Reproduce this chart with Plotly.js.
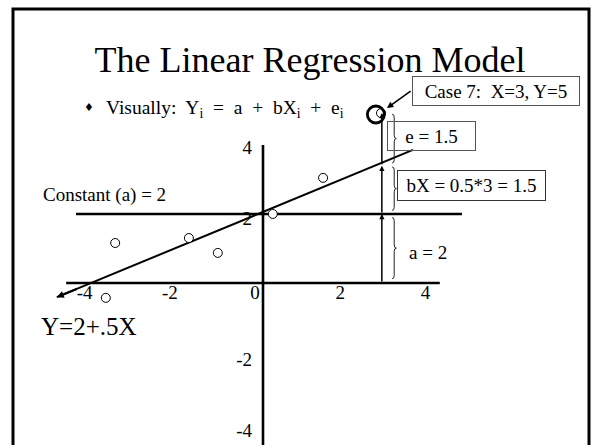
<!DOCTYPE html>
<html>
<head>
<meta charset="utf-8">
<script src="https://cdn.plot.ly/plotly-3.0.1.min.js"></script>
<style>html,body{margin:0;padding:0;background:#fff;}#chart{width:602px;height:445px;}</style>
</head>
<body>
<div id="chart"></div>
<script>
// ---- data (axis units) ----
const pointsX = [-3.69, -3.47, -1.74, -1.06, 0.23, 1.41, 2.77];
const pointsY = [-0.42, 1.13, 1.27, 0.85, 1.95, 2.97, 4.8];
const regLineX = [-4.84, 3.52];
const regLineY = [-0.4, 3.76];
const xAxisExtent = [-4.62, 4.15];
const constLineExtent = [-4.39, 4.67];
const yAxisTop = 3.9;
const constantA = 1.95;
const caseX = 2.79;
const fittedY = 3.31;
const caseY = 4.8;
const bigCircleX = [2.65];
const bigCircleY = [4.76];
const caseArrowTail = [3.5, 5.45];
const caseArrowHead = [2.91, 4.94];
const xTickVals = [-4, -2, 0, 2, 4];
const xTickText = ['-4', '-2', '0', '2', '4'];
const yTickVals = [-4, -2, 2, 4];
const yTickText = ['-4', '-2', '2', '4'];

// ---- layout geometry ----
const W = 602, H = 445;
const X0PX = 263, XPU = 42.6, Y0PX = 283, YPU = 35.4;
const xRange = [(0 - X0PX) / XPU, (W - X0PX) / XPU];
const yRange = [(Y0PX - H) / YPU, Y0PX / YPU];
const px = v => v / W;
const py = v => 1 - v / H;
const FONT = 'Liberation Serif, Times New Roman, serif';
const NB = '\u00A0';

function brace(xl, yTop, yBot) {
  const w = 0.1, r = 0.09;
  const xm = xl + w / 2, xc = xl + w, ym = (yTop + yBot) / 2;
  return `M ${xl},${yTop} Q ${xm},${yTop} ${xm},${yTop - r} L ${xm},${ym + r} Q ${xm},${ym} ${xc},${ym} ` +
         `Q ${xm},${ym} ${xm},${ym - r} L ${xm},${yBot + r} Q ${xm},${yBot} ${xl},${yBot}`;
}

const traces = [
  { x: regLineX, y: regLineY, mode: 'lines', line: { color: '#000', width: 2 }, hoverinfo: 'skip' },
  { x: pointsX, y: pointsY, mode: 'markers',
    marker: { symbol: 'circle', size: 9, color: '#fff', line: { color: '#000', width: 1 } }, hoverinfo: 'skip' },
  { x: bigCircleX, y: bigCircleY, mode: 'markers',
    marker: { symbol: 'circle-open', size: 17, color: '#000', line: { color: '#000', width: 2.8 } }, hoverinfo: 'skip' }
];

const shapes = [
  { type: 'rect', xref: 'paper', yref: 'paper', x0: px(13), x1: px(589), y0: -0.05, y1: py(9),
    line: { color: '#000', width: 3 } },
  { type: 'line', xref: 'x', yref: 'y', x0: xAxisExtent[0], x1: xAxisExtent[1], y0: 0, y1: 0,
    line: { color: '#000', width: 2.6 }, layer: 'below' },
  { type: 'line', xref: 'x', yref: 'y', x0: 0, x1: 0, y0: yAxisTop, y1: yRange[0] - 1,
    line: { color: '#000', width: 2.6 }, layer: 'below' },
  { type: 'line', xref: 'x', yref: 'y', x0: constLineExtent[0], x1: constLineExtent[1], y0: constantA, y1: constantA,
    line: { color: '#000', width: 2.6 }, layer: 'below' },
  { type: 'path', xref: 'x', yref: 'y', path: brace(caseX + 0.24, caseY - 0.03, fittedY + 0.08), line: { color: '#222', width: 1 } },
  { type: 'path', xref: 'x', yref: 'y', path: brace(caseX + 0.24, fittedY - 0.03, constantA + 0.1), line: { color: '#222', width: 1 } },
  { type: 'path', xref: 'x', yref: 'y', path: brace(caseX + 0.24, constantA - 0.1, 0.12), line: { color: '#222', width: 1 } }
];

function vArrow(y0, y1) {
  return { x: caseX, y: y1, ax: caseX, ay: y0, xref: 'x', yref: 'y', axref: 'x', ayref: 'y',
    text: '', showarrow: true, arrowhead: 2, arrowsize: 0.7, arrowwidth: 1.5, arrowcolor: '#000', standoff: 0 };
}
const slope = (regLineY[1] - regLineY[0]) / (regLineX[1] - regLineX[0]);

const annotations = [
  vArrow(0, constantA), vArrow(constantA, fittedY), vArrow(fittedY, caseY),
  { x: regLineX[0], y: regLineY[0], ax: regLineX[0] + 0.5, ay: regLineY[0] + 0.5 * slope,
    xref: 'x', yref: 'y', axref: 'x', ayref: 'y', text: '', showarrow: true,
    arrowhead: 2, arrowsize: 0.7, arrowwidth: 2, arrowcolor: '#000', standoff: 0 },
  { x: caseArrowHead[0], y: caseArrowHead[1], ax: caseArrowTail[0], ay: caseArrowTail[1],
    xref: 'x', yref: 'y', axref: 'x', ayref: 'y', text: '', showarrow: true,
    arrowhead: 2, arrowsize: 0.8, arrowwidth: 1.6, arrowcolor: '#000', standoff: 0 },
  // bullet line
  { xref: 'paper', yref: 'paper', x: px(89), y: py(108), xanchor: 'center', yanchor: 'middle', showarrow: false,
    text: '\u2666', font: { family: 'DejaVu Sans', size: 11, color: '#000' } },
  { xref: 'paper', yref: 'paper', x: px(104), y: py(109), xanchor: 'left', yanchor: 'middle', showarrow: false,
    text: 'Visually:' + NB + ' Y<sub>i</sub>' + NB + ' =' + NB + ' a' + NB + ' +' + NB + ' bX<sub>i</sub>' + NB + ' +' + NB + ' e<sub>i</sub>',
    font: { family: FONT, size: 19.5, color: '#000' } },
  { xref: 'paper', yref: 'paper', x: px(41), y: py(195), xanchor: 'left', yanchor: 'middle', showarrow: false,
    text: 'Constant (a) = 2', font: { family: FONT, size: 19, color: '#000' } },
  { xref: 'paper', yref: 'paper', x: px(39), y: py(326), xanchor: 'left', yanchor: 'middle', showarrow: false,
    text: 'Y=2+.5X', font: { family: FONT, size: 25, color: '#000' } },
  { xref: 'paper', yref: 'paper', x: px(495.5), y: py(90.5), xanchor: 'center', yanchor: 'middle', showarrow: false,
    text: 'Case 7:' + NB + ' X=3, Y=5', font: { family: FONT, size: 19, color: '#000' },
    width: 164, height: 26, bordercolor: '#555', borderwidth: 1, borderpad: 1, bgcolor: '#fff' },
  { xref: 'paper', yref: 'paper', x: px(431), y: py(135.5), xanchor: 'center', yanchor: 'middle', showarrow: false,
    text: 'e = 1.5', font: { family: FONT, size: 19, color: '#000' },
    width: 85, height: 26, bordercolor: '#555', borderwidth: 1, borderpad: 1 },
  { xref: 'paper', yref: 'paper', x: px(471), y: py(185), xanchor: 'center', yanchor: 'middle', showarrow: false,
    text: 'bX = 0.5*3 = 1.5', font: { family: FONT, size: 19, color: '#000' },
    width: 145, height: 27, bordercolor: '#333', borderwidth: 1, borderpad: 1 },
  { xref: 'paper', yref: 'paper', x: px(407), y: py(252), xanchor: 'left', yanchor: 'middle', showarrow: false,
    text: 'a = 2', font: { family: FONT, size: 19, color: '#000' } }
];

const layout = {
  width: W, height: H,
  margin: { l: 0, r: 0, t: 0, b: 0, pad: 0 },
  paper_bgcolor: '#fff', plot_bgcolor: '#fff',
  showlegend: false,
  title: { text: 'The Linear Regression Model', font: { family: FONT, size: 36, color: '#000' },
    x: px(310), xanchor: 'center', y: py(59), yanchor: 'middle', xref: 'paper' },
  xaxis: { range: xRange, autorange: false, showgrid: false, zeroline: false, showline: false,
    anchor: 'free', position: (0 - yRange[0]) / (yRange[1] - yRange[0]), side: 'bottom',
    tickmode: 'array', tickvals: xTickVals, ticktext: xTickText, ticks: '',
    ticklabelshift: -8, ticklabelstandoff: -4,
    tickfont: { family: FONT, size: 19, color: '#000' }, fixedrange: true },
  yaxis: { range: yRange, autorange: false, showgrid: false, zeroline: false, showline: false,
    anchor: 'free', position: X0PX / W, side: 'left',
    tickmode: 'array', tickvals: yTickVals, ticktext: yTickText, ticks: '',
    ticklabelshift: 6, ticklabelstandoff: 11,
    tickfont: { family: FONT, size: 19, color: '#000' }, fixedrange: true },
  shapes: shapes,
  annotations: annotations
};

Plotly.newPlot('chart', traces, layout, { displayModeBar: false, staticPlot: true });
</script>
</body>
</html>
